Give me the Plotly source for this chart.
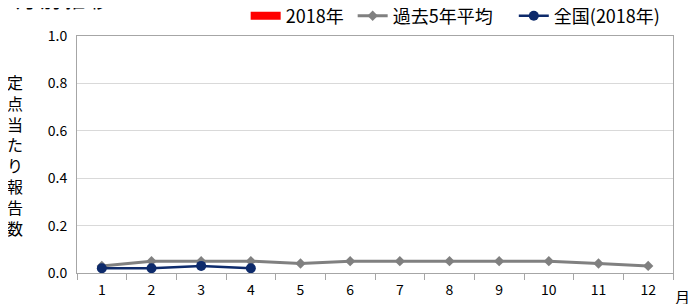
import plotly.graph_objects as go

months = list(range(1, 13))
month_labels = [str(m) for m in months]
y2018 = [None] * 12
avg5 = [0.03, 0.05, 0.05, 0.05, 0.04, 0.05, 0.05, 0.05, 0.05, 0.05, 0.04, 0.03]
national_months = [1, 2, 3, 4]
national2018 = [0.02, 0.02, 0.03, 0.02]
ytick_vals = [0.0, 0.2, 0.4, 0.6, 0.8, 1.0]
ytick_text = ["0.0", "0.2", "0.4", "0.6", "0.8", "1.0"]

FONT = "Noto Sans CJK JP"
NB = "\u00a0"

fig = go.Figure()
fig.add_trace(go.Bar(x=months, y=y2018, name="2018年", marker_color="#FF0000", showlegend=False))
# legend key for the (empty) 2018 bar series, drawn as a wide red block
fig.add_trace(go.Scatter(x=[None], y=[None], name="2018年" + NB, mode="lines",
                         line=dict(color="#FF0000", width=8)))
fig.add_trace(go.Scatter(x=months, y=avg5, name="過去5年平均" + NB * 4, mode="lines+markers",
                         line=dict(color="#808080", width=3),
                         marker=dict(symbol="diamond", size=8, color="#808080")))
fig.add_trace(go.Scatter(x=national_months, y=national2018, name="全国(2018年)", mode="lines+markers",
                         line=dict(color="#0D2A6B", width=2.5),
                         marker=dict(symbol="circle", size=10, color="#0D2A6B")))

fig.update_layout(
    width=689, height=296,
    margin=dict(l=69, r=24, t=28, b=31, autoexpand=False),
    paper_bgcolor="white", plot_bgcolor="white",
    font=dict(family=FONT, size=14, color="#000000"),
    showlegend=True,
    legend=dict(orientation="h", x=0.283, y=1 - 8 / 296, xref="paper", yref="container",
                xanchor="left", yanchor="middle", font=dict(size=18, family=FONT),
                itemwidth=30, tracegroupgap=0, bgcolor="rgba(0,0,0,0)"),
    xaxis=dict(range=[0.5, 12.5], tickvals=months, ticktext=month_labels, ticks="",
               showgrid=False, zeroline=False, showline=True, linecolor="#A6A6A6", linewidth=1,
               mirror=True, tickfont=dict(size=14), ticklabelstandoff=4,
               minor=dict(tick0=0.5, dtick=1, ticks="outside", ticklen=6, tickcolor="#A6A6A6",
                          showgrid=False)),
    yaxis=dict(range=[0, 1.0], tickvals=ytick_vals, ticktext=ytick_text, showgrid=True,
               gridcolor="#D9D9D9", gridwidth=1, zeroline=False, showline=True,
               linecolor="#A6A6A6", linewidth=1, mirror=True, ticks="",
               tickfont=dict(size=14), ticklabelstandoff=6),
)

fig.add_annotation(text="月", xref="paper", yref="paper", x=1.0, y=-0.101,
                   xanchor="left", yanchor="middle", showarrow=False, font=dict(size=15))
fig.add_annotation(text="<br>".join(list("定点当たり報告数")), xref="paper", yref="paper",
                   x=-0.104, y=0.5, showarrow=False, font=dict(size=16, family=FONT),
                   xanchor="center", yanchor="middle")
fig.add_annotation(text="月 別 推 移", xref="paper", yref="paper", x=-0.106, y=1.152,
                   xanchor="left", yanchor="middle", showarrow=False, font=dict(size=20))

fig.write_html("out.html")
